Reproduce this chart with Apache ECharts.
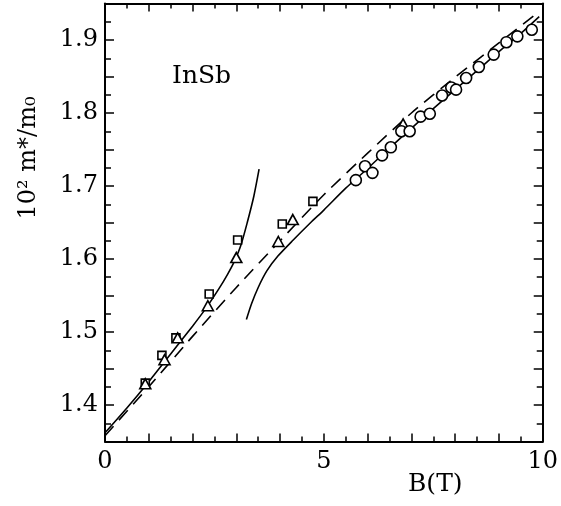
<!DOCTYPE html>
<html>
<head>
<meta charset="utf-8">
<script src="https://cdn.jsdelivr.net/npm/echarts@6/dist/echarts.min.js"></script>
<style>
    body {margin: 0;background: #fff;}
    #chart {width: 561px;height: 506px;}
</style>
</head>
<body>
<div id="chart"></div>
<script>
// data: [B (T), 10^2 m*/m0]
var squares = [[0.92, 1.430], [1.30, 1.468], [1.62, 1.492], [2.38, 1.552], [3.03, 1.626], [4.05, 1.648], [4.75, 1.679]];
var triangles = [[0.92, 1.429], [1.36, 1.462], [1.66, 1.492], [2.35, 1.536], [3.00, 1.602], [3.96, 1.624], [4.29, 1.654], [6.81, 1.785]];
var circles = [[5.73, 1.708], [5.94, 1.727], [6.11, 1.718], [6.33, 1.742], [6.53, 1.753], [6.77, 1.775], [6.96, 1.775],
    [7.21, 1.795], [7.42, 1.799], [7.70, 1.824], [7.91, 1.835], [8.02, 1.832], [8.25, 1.848], [8.54, 1.863],
    [8.88, 1.880], [9.17, 1.897], [9.42, 1.905], [9.75, 1.914]];
// solid curve, lower branch (diverges near 3.5 T)
var solidLow = [[0, 1.362], [0.5, 1.396], [1, 1.432], [1.5, 1.470], [2, 1.508], [2.3, 1.532], [2.6, 1.559],
    [2.8, 1.579], [2.95, 1.596], [3.1, 1.618], [3.25, 1.650], [3.4, 1.686], [3.52, 1.723]];
// solid curve, upper branch
var solidHigh = [[3.23, 1.517], [3.35, 1.539], [3.5, 1.561], [3.7, 1.584], [3.95, 1.604], [4.3, 1.626], [4.7, 1.650],
    [5, 1.667], [5.5, 1.697], [6, 1.724], [6.5, 1.752], [7, 1.779], [7.5, 1.806], [8, 1.832], [8.5, 1.858],
    [9, 1.884], [9.5, 1.909], [9.92, 1.932]];
// dashed curve
var dashed = [[0, 1.358], [1, 1.425], [2, 1.494], [3, 1.561], [4, 1.625], [5, 1.688], [6, 1.745], [7, 1.800],
    [8, 1.849], [9, 1.896], [9.9, 1.938]];
var xLabels = [0, 5, 10];
var yLabels = [1.4, 1.5, 1.6, 1.7, 1.8, 1.9];

var font = 'DejaVu Serif';

function xAxisOf(pos, showLabels) {
    return {
        type: 'value', position: pos, min: 0, max: 10, interval: 1,
        axisLine: {show: true, onZero: false, lineStyle: {color: '#000', width: 2}},
        axisTick: {inside: true, length: 8, lineStyle: {color: '#000', width: 1.5}},
        minorTick: {show: true, splitNumber: 2, length: 5, lineStyle: {color: '#000', width: 1.5}},
        splitLine: {show: false},
        axisLabel: {
            show: showLabels, margin: 8, color: '#000', fontFamily: font, fontSize: 24,
            formatter: function (v) { return xLabels.indexOf(v) >= 0 ? String(v) : ''; }
        }
    };
}
function yAxisOf(pos, showLabels) {
    return {
        type: 'value', position: pos, min: 1.35, max: 1.95, interval: 0.05,
        axisLine: {show: true, onZero: false, lineStyle: {color: '#000', width: 2}},
        axisTick: {inside: true, length: 9, lineStyle: {color: '#000', width: 1.5}},
        minorTick: {show: true, splitNumber: 2, length: 6, lineStyle: {color: '#000', width: 1.5}},
        splitLine: {show: false},
        axisLabel: {
            show: showLabels, margin: 7, color: '#000', fontFamily: font, fontSize: 24,
            formatter: function (v) {
                for (var i = 0; i < yLabels.length; i++) {
                    if (Math.abs(yLabels[i] - v) < 1e-6) return yLabels[i].toFixed(1);
                }
                return '';
            }
        }
    };
}
function marks(data, symbol, size) {
    return {
        type: 'scatter', data: data, symbol: symbol, symbolSize: size, z: 5,
        itemStyle: {color: '#fff', borderColor: '#000', borderWidth: 1.6, opacity: 1}
    };
}
function curve(data, dash) {
    return {
        type: 'line', data: data, smooth: 0.25, symbol: 'none', z: 3,
        lineStyle: {color: '#000', width: 1.6, type: dash ? [13, 8] : 'solid'}
    };
}

var chart = echarts.init(document.getElementById('chart'));
chart.setOption({
    animation: false,
    grid: {left: 105, top: 3.5, width: 440.5, height: 438},
    xAxis: [xAxisOf('bottom', true), xAxisOf('top', false)],
    yAxis: [yAxisOf('left', true), yAxisOf('right', false)],
    graphic: [
        {type: 'text', left: 172, top: 64, style: {text: 'InSb', font: '25px "DejaVu Serif"', fill: '#000'}},
        {type: 'text', left: 408, top: 472, style: {text: 'B(T)', font: '25px "DejaVu Serif"', fill: '#000'}},
        {type: 'text', x: 29, y: 158, rotation: Math.PI / 2,
            style: {text: '10² m*/m₀', font: '24px "DejaVu Serif"', fill: '#000', align: 'center', verticalAlign: 'middle'}}
    ],
    series: [
        curve(solidLow, false),
        curve(solidHigh, false),
        curve(dashed, true),
        marks(squares, 'rect', 8),
        marks(triangles, 'triangle', [11, 10]),
        marks(circles, 'circle', 11)
    ]
});
</script>
</body>
</html>
